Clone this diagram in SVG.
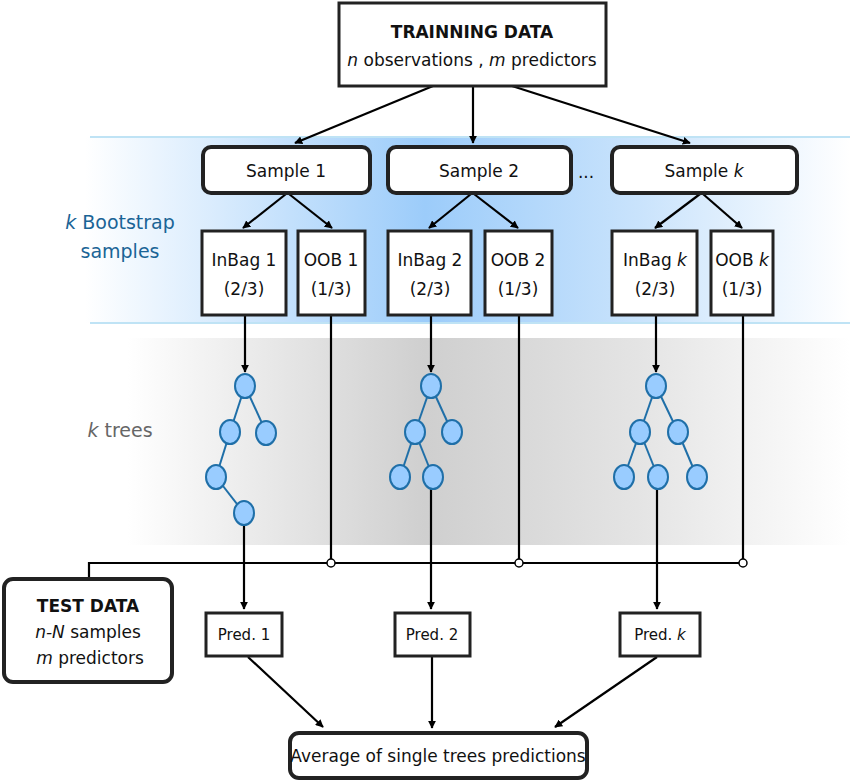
<svg xmlns="http://www.w3.org/2000/svg" width="850" height="782" viewBox="0 0 850 782">
<defs>
<marker id="ah" viewBox="0 0 10 10" refX="9" refY="5" markerWidth="8" markerHeight="8" orient="auto-start-reverse" markerUnits="userSpaceOnUse"><path d="M0,0 L10,5 L0,10 z" fill="#000"/></marker>
<linearGradient id="blue" x1="0" x2="1" y1="0" y2="0">
<stop offset="0.1" stop-color="#fff"/><stop offset="0.5" stop-color="#9cccfa"/><stop offset="0.75" stop-color="#c9e3fc"/><stop offset="1" stop-color="#fff"/></linearGradient>
<linearGradient id="gray" x1="0" x2="1" y1="0" y2="0">
<stop offset="0.15" stop-color="#fff"/><stop offset="0.5" stop-color="#cfcfcf"/><stop offset="0.75" stop-color="#e4e4e4"/><stop offset="1" stop-color="#fff"/></linearGradient>
</defs>
<style>
text{font-family:"DejaVu Sans",Verdana,sans-serif;font-size:17px;text-anchor:middle;fill:#111}
.box{fill:#fff;stroke:#222;stroke-width:3}
.rbox{fill:#fff;stroke:#222;stroke-width:4}
.c{stroke:#000;stroke-width:2.2;fill:none}
.a{stroke:#000;stroke-width:2.2;fill:none;marker-end:url(#ah)}
.n{fill:#99ccff;stroke:#1f6fa8;stroke-width:2}
.e{stroke:#1f6fa8;stroke-width:2}
</style>
<rect x="0" y="137" width="850" height="186" fill="url(#blue)"/>
<line x1="90" y1="137" x2="850" y2="137" stroke="#bfe3f5" stroke-width="2"/>
<line x1="90" y1="323" x2="850" y2="323" stroke="#bfe3f5" stroke-width="2"/>
<rect x="0" y="338" width="850" height="207" fill="url(#gray)"/>
<text x="120" y="229" style="fill:#1a6496;font-size:19px"><tspan font-style="italic">k</tspan> Bootstrap</text>
<text x="120" y="258" style="fill:#1a6496;font-size:19px">samples</text>
<text x="120" y="437" style="fill:#666;font-size:19px"><tspan font-style="italic">k</tspan> trees</text>
<text x="586" y="178">...</text>
<g id="connectors">
<line class="a" x1="433" y1="86" x2="295" y2="143"/>
<line class="a" x1="473" y1="86" x2="473" y2="143"/>
<line class="a" x1="512" y1="86" x2="690" y2="143"/>
<line class="a" x1="286" y1="194" x2="243" y2="228"/>
<line class="a" x1="289" y1="194" x2="332" y2="228"/>
<line class="a" x1="471" y1="194" x2="429" y2="228"/>
<line class="a" x1="474" y1="194" x2="518" y2="228"/>
<line class="a" x1="700" y1="194" x2="655" y2="228"/>
<line class="a" x1="703" y1="194" x2="742" y2="228"/>
<line class="a" x1="245" y1="316" x2="245" y2="372"/>
<line class="a" x1="431" y1="316" x2="431" y2="372"/>
<line class="a" x1="656" y1="316" x2="656" y2="372"/>
<line class="c" x1="331" y1="316" x2="331" y2="559"/>
<line class="c" x1="519" y1="316" x2="519" y2="559"/>
<line class="c" x1="743" y1="316" x2="743" y2="559"/>
<polyline class="c" points="89,580 89,563 327,563"/>
<line class="c" x1="335" y1="563" x2="515" y2="563"/>
<line class="c" x1="523" y1="563" x2="739" y2="563"/>
<circle cx="331" cy="563" r="4" fill="#fff" stroke="#000" stroke-width="1.5"/>
<circle cx="519" cy="563" r="4" fill="#fff" stroke="#000" stroke-width="1.5"/>
<circle cx="743" cy="563" r="4" fill="#fff" stroke="#000" stroke-width="1.5"/>
<line class="a" x1="244" y1="525" x2="244" y2="609"/>
<line class="a" x1="431" y1="489" x2="431" y2="609"/>
<line class="a" x1="657" y1="489" x2="657" y2="609"/>
<line class="a" x1="248" y1="657" x2="323" y2="727"/>
<line class="a" x1="432" y1="657" x2="432" y2="728"/>
<line class="a" x1="657" y1="657" x2="555" y2="727"/>
</g>
<g id="tree1">
<line class="e" x1="245" y1="386" x2="230" y2="432"/><line class="e" x1="245" y1="386" x2="266" y2="432"/>
<line class="e" x1="230" y1="432" x2="216" y2="477"/><line class="e" x1="216" y1="477" x2="244" y2="513"/>
<ellipse class="n" cx="245" cy="386" rx="10" ry="12"/><ellipse class="n" cx="230" cy="432" rx="10" ry="12"/><ellipse class="n" cx="266" cy="433" rx="10" ry="12"/><ellipse class="n" cx="216" cy="477" rx="10" ry="12"/><ellipse class="n" cx="244" cy="513" rx="10" ry="12"/>
</g>
<g id="tree2">
<line class="e" x1="431" y1="386" x2="415" y2="432"/><line class="e" x1="431" y1="386" x2="452" y2="432"/>
<line class="e" x1="415" y1="432" x2="400" y2="477"/><line class="e" x1="415" y1="432" x2="433" y2="477"/>
<ellipse class="n" cx="431" cy="386" rx="10" ry="12"/><ellipse class="n" cx="415" cy="432" rx="10" ry="12"/><ellipse class="n" cx="452" cy="432" rx="10" ry="12"/><ellipse class="n" cx="400" cy="477" rx="10" ry="12"/><ellipse class="n" cx="433" cy="477" rx="10" ry="12"/>
</g>
<g id="treek">
<line class="e" x1="656" y1="386" x2="640" y2="432"/><line class="e" x1="656" y1="386" x2="678" y2="432"/>
<line class="e" x1="640" y1="432" x2="624" y2="477"/><line class="e" x1="640" y1="432" x2="658" y2="477"/><line class="e" x1="678" y1="432" x2="697" y2="477"/>
<ellipse class="n" cx="656" cy="386" rx="10" ry="12"/><ellipse class="n" cx="640" cy="432" rx="10" ry="12"/><ellipse class="n" cx="678" cy="432" rx="10" ry="12"/><ellipse class="n" cx="624" cy="477" rx="10" ry="12"/><ellipse class="n" cx="658" cy="477" rx="10" ry="12"/><ellipse class="n" cx="697" cy="477" rx="10" ry="12"/>
</g>
<g id="train"><rect class="box" x="339" y="3" width="267" height="83"/>
<text x="472" y="38" font-weight="bold">TRAINNING DATA</text>
<text x="472" y="66"><tspan font-style="italic">n</tspan> observations , <tspan font-style="italic">m</tspan> predictors</text></g>
<g id="s1"><rect class="rbox" x="203" y="147" width="167" height="46" rx="8"/><text x="286" y="177">Sample 1</text></g>
<g id="s2"><rect class="rbox" x="388" y="147" width="183" height="46" rx="8"/><text x="479" y="177">Sample 2</text></g>
<g id="sk"><rect class="rbox" x="612" y="147" width="185" height="46" rx="8"/><text x="704" y="177">Sample <tspan font-style="italic">k</tspan></text></g>
<g id="ib1"><rect class="box" x="202" y="231" width="84" height="84"/><text x="244" y="266">InBag 1</text><text x="244" y="295">(2/3)</text></g>
<g id="oob1"><rect class="box" x="298" y="231" width="67" height="84"/><text x="331" y="266">OOB 1</text><text x="331" y="295">(1/3)</text></g>
<g id="ib2"><rect class="box" x="388" y="231" width="83" height="84"/><text x="430" y="266">InBag 2</text><text x="430" y="295">(2/3)</text></g>
<g id="oob2"><rect class="box" x="485" y="231" width="67" height="84"/><text x="518" y="266">OOB 2</text><text x="518" y="295">(1/3)</text></g>
<g id="ibk"><rect class="box" x="612" y="231" width="85" height="84"/><text x="655" y="266">InBag <tspan font-style="italic">k</tspan></text><text x="655" y="295">(2/3)</text></g>
<g id="oobk"><rect class="box" x="711" y="231" width="62" height="84"/><text x="742" y="266">OOB <tspan font-style="italic">k</tspan></text><text x="742" y="295">(1/3)</text></g>
<g id="test"><rect class="rbox" x="4" y="579" width="168" height="103" rx="9"/>
<text x="88" y="612" font-weight="bold">TEST DATA</text>
<text x="88" y="638"><tspan font-style="italic">n-N</tspan> samples</text>
<text x="90" y="664"><tspan font-style="italic">m</tspan> predictors</text></g>
<g id="p1"><rect class="box" x="206" y="613" width="76" height="43"/><text x="244" y="640" style="font-size:15px">Pred. 1</text></g>
<g id="p2"><rect class="box" x="395" y="613" width="75" height="43"/><text x="432" y="640" style="font-size:15px">Pred. 2</text></g>
<g id="pk"><rect class="box" x="620" y="613" width="80" height="43"/><text x="660" y="640" style="font-size:15px">Pred. <tspan font-style="italic">k</tspan></text></g>
<g id="avg"><rect class="rbox" x="290" y="733" width="297" height="45" rx="9"/><text x="438" y="762">Average of single trees predictions</text></g>
</svg>
